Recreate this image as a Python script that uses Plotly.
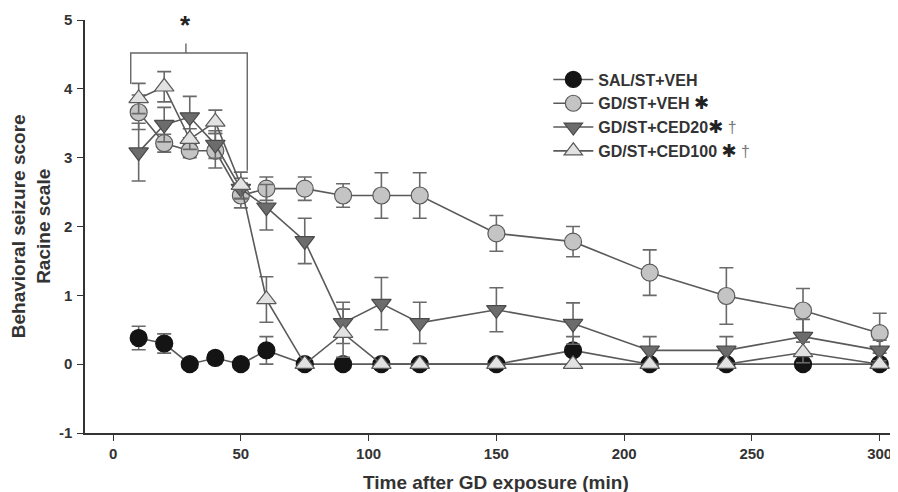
import plotly.graph_objects as go

times = [10, 20, 30, 40, 50, 60, 75, 90, 105, 120, 150, 180, 210, 240, 270, 300]

sal_veh = [0.38, 0.30, 0.0, 0.09, 0.0, 0.2, 0.0, 0.0, 0.0, 0.0, 0.0, 0.2, 0.0, 0.0, 0.0, 0.0]
sal_veh_err = [0.17, 0.14, 0.0, 0.08, 0.0, 0.2, 0.0, 0.0, 0.0, 0.0, 0.0, 0.2, 0.0, 0.0, 0.0, 0.0]

gd_veh = [3.66, 3.21, 3.1, 3.1, 2.45, 2.55, 2.55, 2.45, 2.45, 2.45, 1.9, 1.78, 1.33, 0.99, 0.78, 0.45]
gd_veh_err = [0.25, 0.13, 0.1, 0.25, 0.18, 0.17, 0.17, 0.17, 0.33, 0.33, 0.26, 0.22, 0.33, 0.41, 0.32, 0.29]

gd_ced20 = [3.08, 3.48, 3.59, 3.19, 2.55, 2.28, 1.79, 0.6, 0.88, 0.6, 0.79, 0.59, 0.2, 0.2, 0.4, 0.2]
gd_ced20_err = [0.42, 0.25, 0.3, 0.2, 0.15, 0.33, 0.33, 0.3, 0.38, 0.3, 0.32, 0.3, 0.2, 0.2, 0.25, 0.15]

gd_ced100 = [3.86, 4.03, 3.27, 3.52, 2.6, 0.94, 0.0, 0.45, 0.0, 0.0, 0.0, 0.0, 0.0, 0.0, 0.17, 0.0]
gd_ced100_err = [0.22, 0.22, 0.15, 0.17, 0.19, 0.33, 0.0, 0.35, 0.0, 0.0, 0.0, 0.0, 0.0, 0.0, 0.15, 0.0]

x_ticks = [0, 50, 100, 150, 200, 250, 300]
y_ticks = [-1, 0, 1, 2, 3, 4, 5]
y_tick_text = ["-1", "0", "1", "2", "3", "4", "5"]

star = "<span style='font-family:DejaVu Sans;font-size:18px;color:#222'>✱</span>"
dag = "<span style='font-size:16px;color:#777;font-weight:normal'> †</span>"
names = ["SAL/ST+VEH", "GD/ST+VEH " + star, "GD/ST+CED20" + star + dag, "GD/ST+CED100 " + star + dag]

line_col = "#5a5a5a"
err_col = "#6a6a6a"

series = [
    (sal_veh, sal_veh_err, "circle", "#141414", "#141414"),
    (gd_veh, gd_veh_err, "circle", "#c4c4c4", "#5a5a5a"),
    (gd_ced20, gd_ced20_err, "triangle-down", "#6c6c6c", "#4a4a4a"),
    (gd_ced100, gd_ced100_err, "triangle-up", "#e2e2e2", "#5a5a5a"),
]

fig = go.Figure()
for (vals, errs, sym, fill, edge), name in zip(series, names):
    fig.add_trace(go.Scatter(
        x=times, y=vals, name=name, mode="lines+markers",
        line=dict(color=line_col, width=1.6),
        marker=dict(symbol=sym, size=17, color=fill, line=dict(color=edge, width=1.2)),
        error_y=dict(type="data", array=errs, color=err_col, thickness=1.6, width=7),
    ))

# significance bracket
fig.add_shape(type="path", path="M 6.9,4.07 L 6.9,4.52 L 52.5,4.52 L 52.5,2.81",
              xref="x", yref="y", line=dict(color="#666", width=1.4))
fig.add_shape(type="line", x0=28.5, x1=28.5, y0=4.52, y1=4.66,
              xref="x", yref="y", line=dict(color="#666", width=1.4))
fig.add_annotation(x=28.5, y=4.93, xref="x", yref="y", text="*", showarrow=False,
                   font=dict(size=26, color="#222", family="Liberation Sans", weight="bold"))

# axis titles
fig.add_annotation(x=-0.067, y=0.5, xref="paper", yref="paper", textangle=-90,
                   text="Behavioral seizure score<br>Racine scale", showarrow=False,
                   xanchor="center", yanchor="middle",
                   font=dict(size=19, color="#333", family="Liberation Sans", weight="bold"))
fig.add_annotation(x=0.508, y=-0.12, xref="paper", yref="paper",
                   text="Time after GD exposure (min)", showarrow=False,
                   xanchor="center", yanchor="middle",
                   font=dict(size=19, color="#333", family="Liberation Sans", weight="bold"))

# page body has an 8px margin, so the figure is sized to fit the 898x492 window
fig.update_layout(
    width=890, height=484,
    margin=dict(l=77, r=3, t=12, b=59),
    plot_bgcolor="white", paper_bgcolor="white",
    font=dict(family="Liberation Sans", color="#333"),
    showlegend=True,
    legend=dict(x=0.572, y=0.897, xanchor="left", yanchor="top", itemwidth=40,
                bgcolor="rgba(0,0,0,0)", tracegroupgap=0,
                font=dict(size=16, color="#333", family="Liberation Sans", weight="bold")),
    xaxis=dict(range=[-11, 306], tickvals=x_ticks, showline=True, linecolor="#333", linewidth=1.5,
               ticks="outside", ticklen=6, tickcolor="#333", showgrid=False, zeroline=False,
               automargin=False, ticklabelstandoff=0,
               tickfont=dict(size=15, color="#333", weight="bold")),
    yaxis=dict(range=[-1, 5], tickvals=y_ticks, ticktext=y_tick_text, showline=True,
               linecolor="#333", linewidth=1.5,
               ticks="outside", ticklen=6, tickcolor="#333", showgrid=False, zeroline=False,
               automargin=False, ticklabelstandoff=2,
               tickfont=dict(size=15, color="#333", weight="bold")),
)

fig.write_html("out.html")
